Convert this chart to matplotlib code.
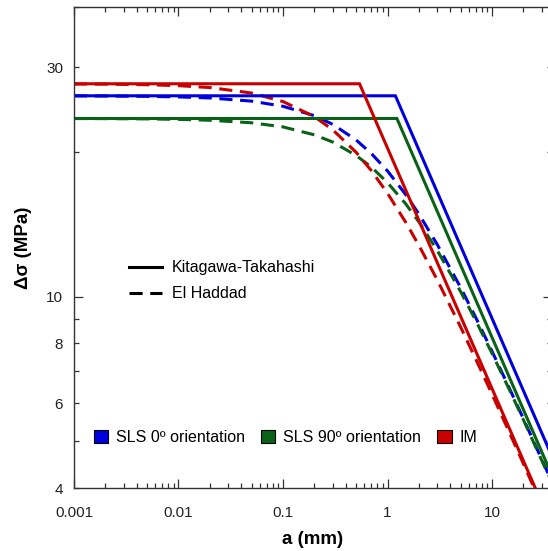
import matplotlib
matplotlib.use("Agg")
import matplotlib.pyplot as plt
from matplotlib.lines import Line2D
from matplotlib.patches import Patch

# --- DATA ---
series_names = ["SLS 0º orientation", "SLS 90º orientation", "IM"]
series_colors = ["#0000DC", "#0A6118", "#C80000"]

# Kitagawa-Takahashi: plateau, knee, end point
kt_sls0_a = [0.001, 1.19, 38.0]
kt_sls0_ds = [26.15, 26.15, 4.62]
kt_sls90_a = [0.001, 1.23, 38.0]
kt_sls90_ds = [23.46, 23.46, 4.22]
kt_im_a = [0.001, 0.54, 27.0]
kt_im_ds = [27.7, 27.7, 3.92]

# El Haddad curves
eh_a = [0.001, 0.002, 0.005, 0.01, 0.02, 0.05, 0.1, 0.2, 0.3, 0.5, 0.7,
        1, 1.5, 2, 3, 5, 7, 10, 15, 20, 30, 38]
eh_sls0_ds = [26.14, 26.12, 26.08, 26.01, 25.88, 25.49, 24.87, 23.77, 22.80,
              21.17, 19.84, 18.25, 16.28, 14.84, 12.82, 10.45, 9.04, 7.70,
              6.38, 5.57, 4.58, 4.09]
eh_sls90_ds = [23.45, 23.44, 23.41, 23.36, 23.26, 22.98, 22.53, 21.69, 20.95,
               19.66, 18.59, 17.26, 15.57, 14.29, 12.46, 10.25, 8.91, 7.62,
               6.34, 5.54, 4.56, 4.08]
eh_im_ds = [27.67, 27.65, 27.57, 27.45, 27.20, 26.50, 25.44, 23.66, 22.21,
            19.96, 18.28, 16.40, 14.25, 12.77, 10.82, 8.65, 7.41, 6.27,
            5.16, 4.49, 3.68, 3.30]

x_ticks = [0.001, 0.01, 0.1, 1, 10]
x_tick_labels = ["0.001", "0.01", "0.1", "1", "10"]


def make_chart():
    plt.rcParams['font.family'] = ['Liberation Sans', 'DejaVu Sans']
    fig = plt.figure(figsize=(5.48, 5.51), dpi=100)
    # right spine sits just outside the picture, as in the reference
    ax = fig.add_axes([0.135, 0.1143, 0.8723, 0.873])

    lw = 2.2
    dash = (0, (4.3, 2.5))

    # dashed El Haddad first, solid lines on top
    kt_a = [kt_sls0_a, kt_sls90_a, kt_im_a]
    kt_ds = [kt_sls0_ds, kt_sls90_ds, kt_im_ds]
    eh_ds = [eh_sls0_ds, eh_sls90_ds, eh_im_ds]
    for ds, c in zip(eh_ds, series_colors):
        ax.plot(eh_a, ds, color=c, lw=lw, linestyle=dash, solid_capstyle='butt')
    for a, ds, c in zip(kt_a, kt_ds, series_colors):
        ax.plot(a, ds, color=c, lw=lw, solid_joinstyle='miter')

    ax.set_xscale('log')
    ax.set_yscale('log')
    ax.set_xlim(0.001, 37.5)
    ax.set_ylim(4, 40)

    # ticks: inward, on all sides
    ax.set_xticks(x_ticks)
    ax.set_xticklabels(x_tick_labels)
    ax.set_yticks([10])
    ax.set_yticks([4, 5, 6, 7, 8, 9, 20, 30, 40], minor=True)
    ax.set_yticklabels(["10"])
    ax.set_yticklabels(["4", "", "6", "", "8", "", "", "30", ""], minor=True)
    ax.tick_params(which='both', direction='in', top=True, right=True,
                   labelsize=11, color='#333333', labelcolor='#222222', width=0.9)
    ax.tick_params(which='major', length=6.2)
    ax.tick_params(which='minor', length=3.4)
    ax.tick_params(axis='x', which='both', pad=13)
    ax.tick_params(axis='y', which='both', pad=7.8)
    for s in ax.spines.values():
        s.set_color('#333333')
        s.set_linewidth(1.0)

    ax.set_xlabel("a (mm)", fontsize=13.5, fontweight='bold', labelpad=8)
    ax.set_ylabel("Δσ (MPa)", fontsize=13.5, fontweight='bold', labelpad=10.5)

    # legend for line types
    type_handles = [Line2D([], [], color='black', lw=lw),
                    Line2D([], [], color='black', lw=lw, linestyle=dash)]
    leg1 = ax.legend(type_handles, ["Kitagawa-Takahashi", "El Haddad"],
                     loc='upper left', bbox_to_anchor=(0.084, 0.503), frameon=False,
                     fontsize=11.5, handlelength=2.1, handletextpad=0.6,
                     labelspacing=0.68)
    ax.add_artist(leg1)

    # legend for materials
    mat_handles = [Patch(facecolor=c, edgecolor='black', lw=0.8) for c in series_colors]
    ax.legend(mat_handles, series_names, loc='center left',
              bbox_to_anchor=(0.011, 0.105), frameon=False, ncol=3,
              fontsize=11.5, handlelength=0.9, handleheight=0.9,
              handletextpad=0.5, columnspacing=1.0)

    fig.savefig("out.png", dpi=100)


if __name__ == "__main__":
    make_chart()
